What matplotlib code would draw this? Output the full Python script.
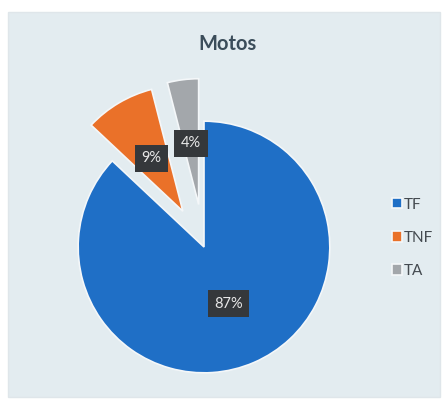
import matplotlib.pyplot as plt
from matplotlib.patches import Rectangle

# data
labels = ['TF', 'TNF', 'TA']
values = [87, 9, 4]
explode = [0, 0.33, 0.34]
slice_colors = ['#1f6fc6', '#ea7129', '#a3a7ab']

W, H = 443, 401
fig = plt.figure(figsize=(W / 100, H / 100), dpi=100)
fig.patch.set_facecolor('white')

# light panel behind the chart
fig.patches.append(Rectangle((8 / W, 4 / H), 432 / W, 385 / H, transform=fig.transFigure,
                             facecolor='#e3ecf0', edgecolor='#dfe6ea', lw=1, zorder=-5))

# pie axes, ~126 px per unit radius, centre at (204, 247)
ax = fig.add_axes([53 / W, 3 / H, 302 / W, 302 / H])
wedges, texts, autotexts = ax.pie(values, explode=explode, colors=slice_colors,
                                  startangle=90, counterclock=False,
                                  autopct='%1.0f%%', pctdistance=0.49,
                                  wedgeprops=dict(edgecolor='#f4f7f9', linewidth=1.2))
ax.set_xlim(-1.2, 1.2)
ax.set_ylim(-1.2, 1.2)
ax.set_aspect('equal')
ax.patch.set_visible(False)

for t in autotexts:
    t.set_color('#e8e8e8')
    t.set_fontsize(10.5)
    t.set_fontfamily('Lato')
    t.set_bbox(dict(boxstyle='square,pad=0.45', facecolor='#35383b', edgecolor='none'))

fig.text(228 / W, 1 - 44 / H, 'Motos', ha='center', va='center', fontsize=14.5,
         fontweight='bold', color='#3b4d5a', fontfamily='Lato')

leg = fig.legend(wedges, labels, loc='upper left', bbox_to_anchor=(378 / W, 1 - 184 / H),
                 frameon=False, handlelength=0.65, handleheight=0.65,
                 handletextpad=0.15, labelspacing=1.25, prop={'family': 'Lato', 'size': 11})
for txt in leg.get_texts():
    txt.set_color('#444a50')

fig.savefig('out.png', dpi=100, facecolor=fig.get_facecolor())
